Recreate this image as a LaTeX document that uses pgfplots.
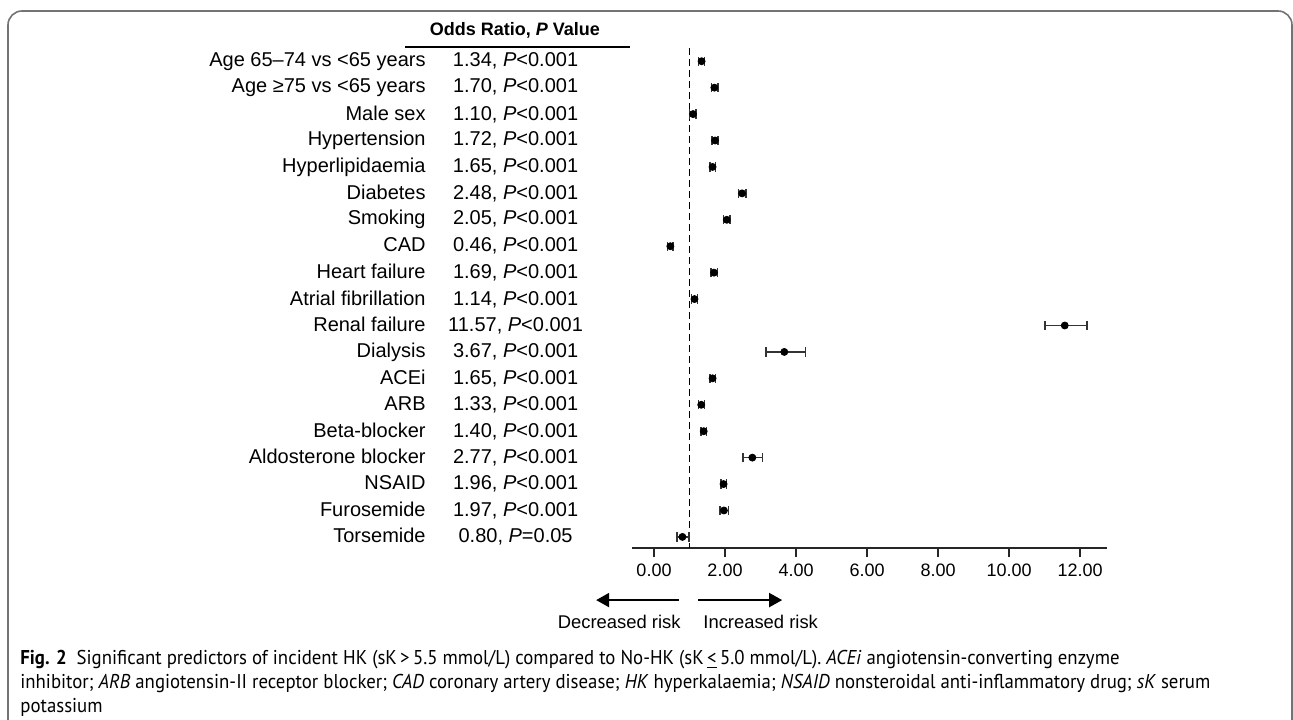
\documentclass[border=0pt]{standalone}
\usepackage{pgfplots}
\pgfplotsset{compat=1.18}
\usepackage{pgfplotstable}
\usepackage{fontspec}
\setmainfont{Liberation Sans}
\newfontfamily\capfont[FakeStretch=0.94]{PT Sans}
\usetikzlibrary{arrows.meta}

% row, odds ratio, distance to lower and upper CI limit
\pgfplotstableread{
row or    em   ep
1   1.34  0.08 0.08
2   1.70  0.08 0.10
3   1.10  0.10 0.08
4   1.72  0.08 0.08
5   1.65  0.08 0.08
6   2.48  0.10 0.11
7   2.05  0.09 0.09
8   0.46  0.08 0.08
9   1.69  0.09 0.10
10  1.14  0.08 0.09
11  11.57 0.55 0.63
12  3.67  0.52 0.60
13  1.65  0.08 0.08
14  1.33  0.08 0.09
15  1.40  0.08 0.08
16  2.77  0.27 0.29
17  1.96  0.07 0.08
18  1.97  0.11 0.13
19  0.80  0.15 0.19
}\ordata

% name (right aligned) and OR column (centred)
\newcommand{\rowlab}[2]{\makebox[0pt][r]{#1}\hspace{12pt}\makebox[66pt][c]{#2}}
\newcommand{\pv}{\textit{P}}

\begin{document}
\begin{tikzpicture}
\useasboundingbox (-316pt,-85.5pt) rectangle (330.5pt,274pt);
\begin{axis}[
  at={(0,0)}, anchor=south west,
  scale only axis, width=237.5pt, height=250pt,
  xmin=-0.62, xmax=12.76,
  ymin=0.5, ymax=19.42, y dir=reverse,
  axis lines=left, axis line style={-},
  x axis line style={line width=0.9pt, black!85},
  y axis line style={draw=none},
  xtick={0,2,...,12},
  xticklabel style={font=\fontsize{9}{10}\selectfont,
    /pgf/number format/.cd, fixed, fixed zerofill, precision=2, assume math mode=true},
  x tick style={line width=0.8pt, black!85},
  tick align=outside, major tick length=4.5pt,
  ytick={1,...,19},
  y tick style={draw=none},
  yticklabel style={anchor=east, inner sep=0pt, xshift=-20.5pt,
    font=\fontsize{10}{12}\selectfont},
  yticklabels={
    {\rowlab{Age 65–74 vs <65 years}{1.34, \pv<0.001}},
    {\rowlab{Age ≥75 vs <65 years}{1.70, \pv<0.001}},
    {\rowlab{Male sex}{1.10, \pv<0.001}},
    {\rowlab{Hypertension}{1.72, \pv<0.001}},
    {\rowlab{Hyperlipidaemia}{1.65, \pv<0.001}},
    {\rowlab{Diabetes}{2.48, \pv<0.001}},
    {\rowlab{Smoking}{2.05, \pv<0.001}},
    {\rowlab{CAD}{0.46, \pv<0.001}},
    {\rowlab{Heart failure}{1.69, \pv<0.001}},
    {\rowlab{Atrial fibrillation}{1.14, \pv<0.001}},
    {\rowlab{Renal failure}{11.57, \pv<0.001}},
    {\rowlab{Dialysis}{3.67, \pv<0.001}},
    {\rowlab{ACEi}{1.65, \pv<0.001}},
    {\rowlab{ARB}{1.33, \pv<0.001}},
    {\rowlab{Beta-blocker}{1.40, \pv<0.001}},
    {\rowlab{Aldosterone blocker}{2.77, \pv<0.001}},
    {\rowlab{NSAID}{1.96, \pv<0.001}},
    {\rowlab{Furosemide}{1.97, \pv<0.001}},
    {\rowlab{Torsemide}{0.80, \pv=0.05}},
  },
  clip=false,
]
% reference line at OR = 1
\draw[line width=0.8pt, dash pattern=on 3.5pt off 2pt] (axis cs:1,0.5) -- (axis cs:1,19.42);

\addplot[only marks, mark=*, mark size=1.75pt, black,
  error bars/.cd, x dir=both, x explicit, error mark=|,
  error mark options={mark size=2.3pt, line width=0.75pt, black!80},
  error bar style={line width=0.75pt, black!80}]
  table[x=or, y=row, x error minus=em, x error plus=ep]{\ordata};

% column header
\node[font=\fontsize{9}{11}\selectfont\bfseries] at (axis cs:-3.92,-0.18)
  {Odds Ratio, \textit{P} Value};
\draw[line width=0.8pt] (axis cs:-7.01,0.46) -- (axis cs:-0.68,0.46);

% direction arrows
\draw[line width=1pt, -{Triangle[length=6.5pt,width=7pt]}] (axis cs:0.70,21.39) -- (axis cs:-1.63,21.39);
\draw[line width=1pt, -{Triangle[length=6.5pt,width=7pt]}] (axis cs:1.24,21.39) -- (axis cs:3.61,21.39);
\node[anchor=east, inner sep=0pt, font=\fontsize{9.2}{11}\selectfont] at (axis cs:0.76,22.22) {Decreased risk};
\node[anchor=west, inner sep=0pt, font=\fontsize{9.2}{11}\selectfont] at (axis cs:1.38,22.22) {Increased risk};
\end{axis}

% figure frame and caption
\draw[black!55, line width=0.8pt, rounded corners=7pt]
  (-312pt,-100pt) -- (-312pt,268.5pt) -- (330pt,268.5pt) -- (330pt,-100pt);
\node[anchor=north west, align=left, inner sep=0pt,
  font=\capfont\fontsize{10}{12}\selectfont] at (-306pt,-51pt)
  {\textbf{Fig. 2}\enspace Significant predictors of incident HK (sK\,>\,5.5 mmol/L) compared to No-HK (sK\,\underline{<}\,5.0 mmol/L). \textit{ACEi} angiotensin-converting enzyme\\
   inhibitor; \textit{ARB} angiotensin-II receptor blocker; \textit{CAD} coronary artery disease; \textit{HK} hyperkalaemia; \textit{NSAID} nonsteroidal anti-inflammatory drug; \textit{sK} serum\\
   potassium};
\end{tikzpicture}
\end{document}
